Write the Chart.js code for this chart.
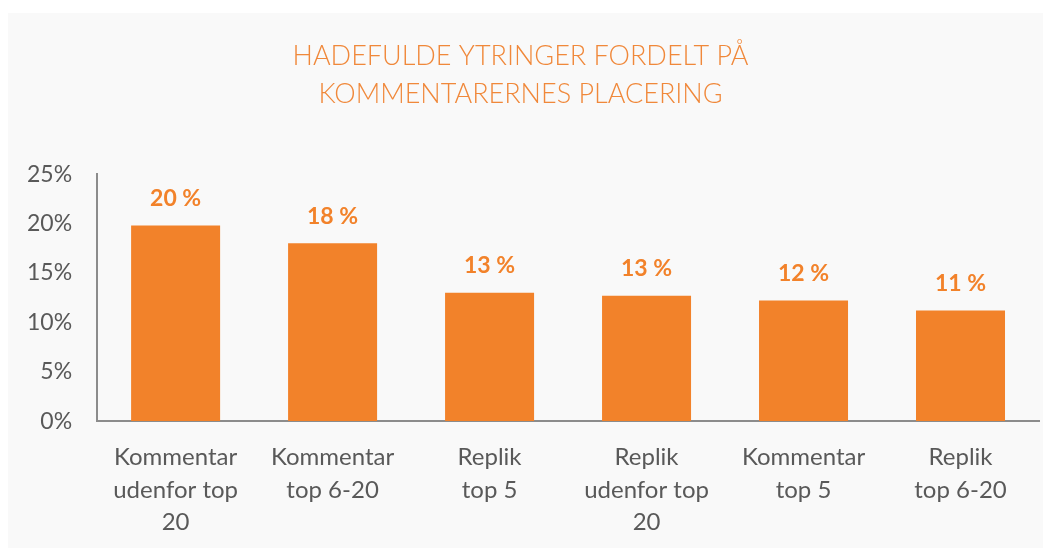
<!DOCTYPE html>
<html>
<head>
<meta charset="utf-8">
<script src="https://cdn.jsdelivr.net/npm/chart.js@4/dist/chart.umd.min.js"></script>
<style>
    html, body { margin: 0; padding: 0; background: #ffffff; }
    .rs-wrap { width: 1051px; height: 556px; position: relative; }
</style>
</head>
<body>
<div class="rs-wrap"><canvas id="hateChart" width="1051" height="556"></canvas></div>
<script>
    // Data
    var categories = [
        ["Kommentar", "udenfor top", "20"],
        ["Kommentar", "top 6-20"],
        ["Replik", "top 5"],
        ["Replik", "udenfor top", "20"],
        ["Kommentar", "top 5"],
        ["Replik", "top 6-20"]
    ];
    var shares = [19.8, 18.0, 13.0, 12.7, 12.2, 11.2];
    var yTicks = [0, 5, 10, 15, 20, 25];
    var titleLines = ["HADEFULDE YTRINGER FORDELT PÅ", "KOMMENTARERNES PLACERING"];

    var orange = '#F2822A';
    var grey = '#595959';

    // light grey plate behind the chart
    var plate = {
        id: 'plate',
        beforeDraw: function(chart) {
            var c = chart.ctx;
            c.save();
            c.fillStyle = '#f9f9f9';
            c.fillRect(8, 13, 1035, 535);
            c.restore();
        }
    };

    // value labels above bars
    var barLabels = {
        id: 'barLabels',
        afterDatasetsDraw: function(chart) {
            var c = chart.ctx;
            var meta = chart.getDatasetMeta(0);
            c.save();
            c.font = 'bold 23px Lato';
            c.fillStyle = orange;
            c.textAlign = 'center';
            c.textBaseline = 'middle';
            meta.data.forEach(function(bar, i) {
                c.fillText(Math.round(shares[i]) + ' %', bar.x, bar.y - 27);
            });
            c.restore();
        }
    };

    var ctx = document.getElementById('hateChart').getContext('2d');
    var chart = new Chart(ctx, {
        type: 'bar',
        data: {
            labels: categories,
            datasets: [{
                label: 'Andel',
                data: shares,
                backgroundColor: orange,
                borderWidth: 0,
                categoryPercentage: 1,
                barPercentage: 0.567
            }]
        },
        options: {
            responsive: false,
            animation: false,
            layout: {
                padding: { left: 2, right: 12, top: 0, bottom: -3 }
            },
            plugins: {
                legend: { display: false },
                tooltip: { enabled: false },
                title: {
                    display: true,
                    text: titleLines,
                    color: '#F0883A',
                    font: { family: 'Lato', size: 27, weight: '300', lineHeight: 1.41 },
                    padding: { top: 37, bottom: 61 }
                }
            },
            scales: {
                x: {
                    grid: { display: false, drawTicks: false },
                    border: { display: true, color: '#8c8c8c', width: 2 },
                    ticks: {
                        color: grey,
                        font: { family: 'Lato', size: 24, lineHeight: 1.36 },
                        padding: 20,
                        maxRotation: 0,
                        autoSkip: false
                    }
                },
                y: {
                    min: 0,
                    max: 25,
                    afterBuildTicks: function(axis) {
                        axis.ticks = yTicks.map(function(v) { return { value: v }; });
                    },
                    grid: { display: false, drawTicks: false },
                    border: { display: true, color: '#8c8c8c', width: 2 },
                    ticks: {
                        color: grey,
                        font: { family: 'Lato', size: 23 },
                        padding: 25,
                        callback: function(v) { return v + '%'; }
                    }
                }
            }
        },
        plugins: [plate, barLabels]
    });
</script>
</body>
</html>
